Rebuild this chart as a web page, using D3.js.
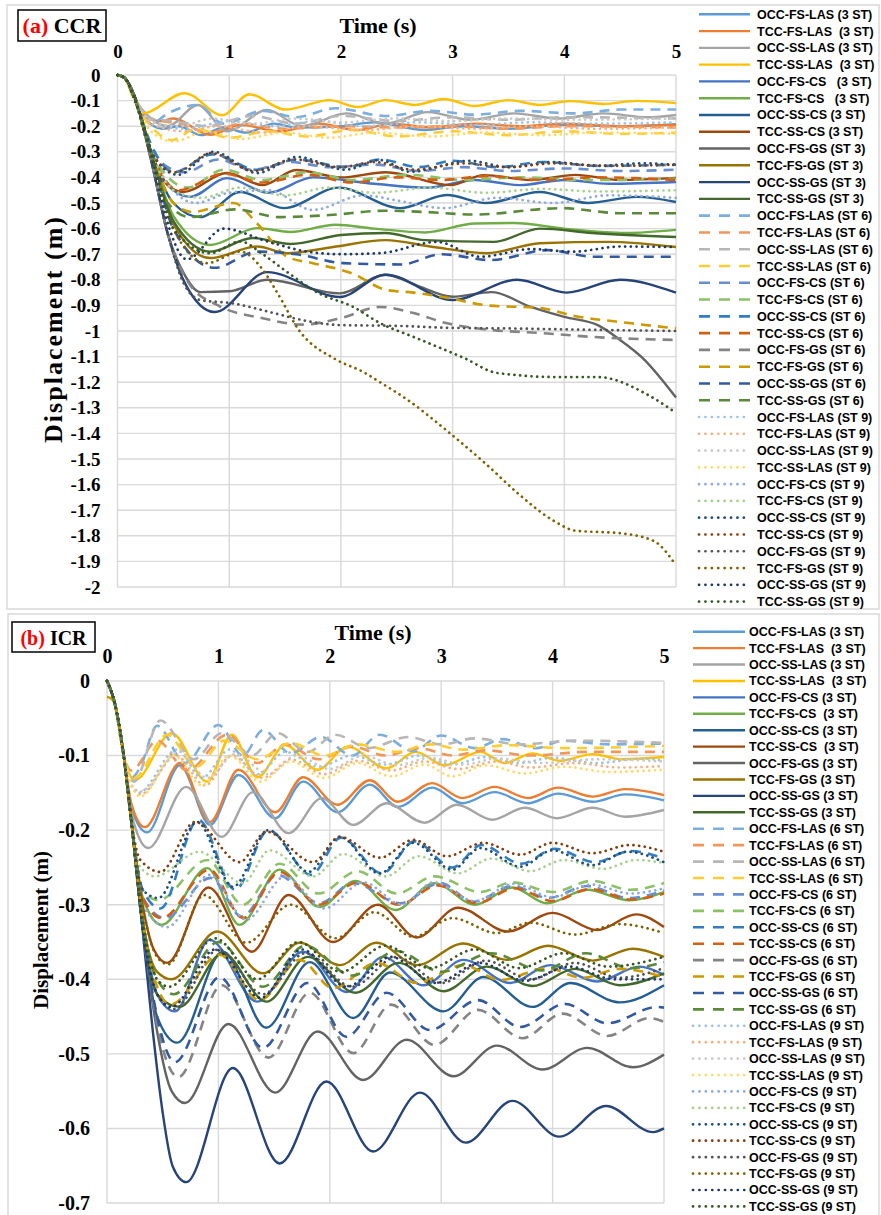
<!DOCTYPE html>
<html><head><meta charset="utf-8">
<script src="https://cdn.jsdelivr.net/npm/d3@7"></script>
<style>
body{margin:0;background:#fff;}
svg{display:block;}
.lg{font-family:"Liberation Sans",Arial,sans-serif;font-weight:bold;font-size:12.5px;white-space:pre;fill:#000;}
.tk{font-family:"Liberation Serif","Times New Roman",serif;font-weight:bold;fill:#000;}
</style></head><body>
<script>
// ---------- tick labels / axis data ----------
const timeTicks = [0,1,2,3,4,5];
const ccrYTicks = d3.range(0,21).map(i=>-i/10);
const icrYTicks = d3.range(0,8).map(i=>-i/10);

// ---------- legend labels ----------
const ccrLabels = ["OCC-FS-LAS (3 ST)","TCC-FS-LAS  (3 ST)","OCC-SS-LAS (3 ST)","TCC-SS-LAS  (3 ST)","OCC-FS-CS   (3 ST)","TCC-FS-CS   (3 ST)","OCC-SS-CS (3 ST)","TCC-SS-CS (3 ST)","OCC-FS-GS (ST 3)","TCC-FS-GS (ST 3)","OCC-SS-GS (ST 3)","TCC-SS-GS (ST 3)",
"OCC-FS-LAS (ST 6)","TCC-FS-LAS (ST 6)","OCC-SS-LAS (ST 6)","TCC-SS-LAS (ST 6)","OCC-FS-CS (ST 6)","TCC-FS-CS (ST 6)","OCC-SS-CS (ST 6)","TCC-SS-CS (ST 6)","OCC-FS-GS (ST 6)","TCC-FS-GS (ST 6)","OCC-SS-GS (ST 6)","TCC-SS-GS (ST 6)",
"OCC-FS-LAS (ST 9)","TCC-FS-LAS (ST 9)","OCC-SS-LAS (ST 9)","TCC-SS-LAS (ST 9)","OCC-FS-CS (ST 9)","TCC-FS-CS (ST 9)","OCC-SS-CS (ST 9)","TCC-SS-CS (ST 9)","OCC-FS-GS (ST 9)","TCC-FS-GS (ST 9)","OCC-SS-GS (ST 9)","TCC-SS-GS (ST 9)"];
const icrLabels = ["OCC-FS-LAS (3 ST)","TCC-FS-LAS  (3 ST)","OCC-SS-LAS (3 ST)","TCC-SS-LAS  (3 ST)","OCC-FS-CS (3 ST)","TCC-FS-CS  (3 ST)","OCC-SS-CS (3 ST)","TCC-SS-CS  (3 ST)","OCC-FS-GS (3 ST)","TCC-FS-GS (3 ST)","OCC-SS-GS (3 ST)","TCC-SS-GS (3 ST)",
"OCC-FS-LAS (6 ST)","TCC-FS-LAS (6 ST)","OCC-SS-LAS (6 ST)","TCC-SS-LAS (6 ST)","OCC-FS-CS (6 ST)","TCC-FS-CS (6 ST)","OCC-SS-CS (6 ST)","TCC-SS-CS (6 ST)","OCC-FS-GS (6 ST)","TCC-FS-GS (6 ST)","OCC-SS-GS (6 ST)","TCC-SS-GS (6 ST)",
"OCC-FS-LAS (9 ST)","TCC-FS-LAS (9 ST)","OCC-SS-LAS (9 ST)","TCC-SS-LAS (9 ST)","OCC-FS-CS (9 ST)","TCC-FS-CS (9 ST)","OCC-SS-CS (9 ST)","TCC-SS-CS (9 ST)","OCC-FS-GS (9 ST)","TCC-FS-GS (9 ST)","OCC-SS-GS (9 ST)","TCC-SS-GS (9 ST)"];

const colors3 = ["#5B9BD5","#ED7D31","#A5A5A5","#FFC000","#4472C4","#70AD47","#255E91","#9E480E","#636363","#997300","#264478","#43682B"];
const colors6 = ["#7CAFDD","#F1975A","#B7B7B7","#FFCD33","#698ED0","#8CC168","#327DC2","#D26012","#848484","#CC9A00","#335AA1","#5A8A39"];
const colors9 = ["#9DC3E6","#F4B183","#C9C9C9","#FFD966","#8FAADC","#A9D18E","#1F4E79","#843C0C","#525252","#7F6000","#203864","#385723"];

// ---------- (a) CCR series : [time s, displacement m] ----------
const a01=[[0,0],[0.06,-0.01],[0.15,-0.09],[0.25,-0.17],[0.4,-0.21],[0.55,-0.2],[0.75,-0.235],[0.95,-0.205],[1.15,-0.225],[1.4,-0.19],[1.6,-0.205],[2.0,-0.2],[2.3,-0.185],[2.75,-0.215],[3.1,-0.2],[3.5,-0.21],[4.0,-0.195],[4.5,-0.2],[5,-0.192]];
const a02=[[0,0],[0.06,-0.01],[0.15,-0.09],[0.25,-0.16],[0.38,-0.18],[0.5,-0.17],[0.83,-0.234],[1.1,-0.195],[1.45,-0.22],[1.8,-0.19],[2.15,-0.215],[2.45,-0.19],[2.8,-0.205],[3.2,-0.19],[3.6,-0.2],[4.0,-0.19],[4.5,-0.2],[5,-0.195]];
const a03=[[0,0],[0.06,-0.01],[0.15,-0.09],[0.3,-0.17],[0.45,-0.2],[0.72,-0.117],[0.98,-0.22],[1.34,-0.137],[1.65,-0.2],[2.05,-0.15],[2.4,-0.19],[2.78,-0.145],[3.15,-0.175],[3.55,-0.15],[3.95,-0.17],[4.35,-0.15],[4.75,-0.165],[5,-0.156]];
const a04=[[0,0],[0.06,-0.01],[0.13,-0.07],[0.23,-0.149],[0.6,-0.071],[0.94,-0.157],[1.18,-0.075],[1.5,-0.135],[1.9,-0.098],[2.15,-0.125],[2.4,-0.098],[2.66,-0.117],[2.92,-0.094],[3.2,-0.121],[3.5,-0.098],[3.78,-0.117],[4.05,-0.102],[4.35,-0.113],[4.65,-0.101],[5,-0.11]];
const a05=[[0,0],[0.06,-0.01],[0.15,-0.08],[0.3,-0.3],[0.45,-0.43],[0.65,-0.476],[0.98,-0.403],[1.35,-0.46],[1.75,-0.4],[2.3,-0.425],[2.77,-0.44],[3.2,-0.41],[3.6,-0.43],[4.0,-0.41],[4.4,-0.425],[5,-0.418]];
const a06=[[0,0],[0.06,-0.01],[0.15,-0.08],[0.3,-0.3],[0.5,-0.55],[0.83,-0.664],[1.25,-0.598],[1.55,-0.613],[1.95,-0.585],[2.3,-0.6],[2.75,-0.615],[3.2,-0.58],[3.55,-0.578],[4.0,-0.6],[4.55,-0.617],[5,-0.605]];
const a07=[[0,0],[0.06,-0.01],[0.15,-0.08],[0.3,-0.3],[0.5,-0.5],[0.74,-0.555],[1.1,-0.457],[1.49,-0.52],[1.98,-0.44],[2.53,-0.52],[2.95,-0.469],[3.3,-0.5],[3.78,-0.457],[4.21,-0.5],[4.65,-0.476],[5,-0.496]];
const a08=[[0,0],[0.06,-0.01],[0.15,-0.08],[0.3,-0.3],[0.45,-0.43],[0.59,-0.457],[0.98,-0.383],[1.3,-0.43],[1.6,-0.371],[2.0,-0.4],[2.4,-0.38],[2.98,-0.43],[3.28,-0.391],[3.7,-0.41],[4.1,-0.39],[4.5,-0.41],[5,-0.402]];
const a09=[[0,0],[0.06,-0.01],[0.15,-0.08],[0.3,-0.33],[0.45,-0.62],[0.6,-0.78],[0.74,-0.848],[1.0,-0.845],[1.34,-0.80],[1.99,-0.853],[2.4,-0.78],[2.7,-0.826],[3.0,-0.866],[3.35,-0.848],[3.7,-0.906],[4.0,-0.945],[4.3,-0.977],[4.5,-1.035],[4.7,-1.105],[5,-1.26]];
const a10=[[0,0],[0.06,-0.01],[0.15,-0.08],[0.3,-0.3],[0.5,-0.58],[0.83,-0.715],[1.25,-0.67],[1.52,-0.696],[1.93,-0.672],[2.4,-0.645],[2.8,-0.67],[3.31,-0.696],[3.78,-0.657],[4.4,-0.652],[5,-0.672]];
const a11=[[0,0],[0.06,-0.01],[0.15,-0.08],[0.3,-0.33],[0.45,-0.62],[0.6,-0.81],[0.87,-0.926],[1.34,-0.77],[1.99,-0.867],[2.4,-0.78],[3.0,-0.879],[3.58,-0.80],[4.02,-0.85],[4.5,-0.80],[5,-0.85]];
const a12=[[0,0],[0.06,-0.01],[0.15,-0.08],[0.3,-0.3],[0.5,-0.57],[0.83,-0.69],[1.21,-0.637],[1.55,-0.66],[2.0,-0.625],[2.4,-0.617],[2.75,-0.645],[3.37,-0.652],[3.78,-0.60],[4.25,-0.617],[5,-0.633]];
const a13=[[0,0],[0.06,-0.01],[0.15,-0.09],[0.3,-0.19],[0.45,-0.15],[0.72,-0.117],[0.95,-0.19],[1.3,-0.14],[1.6,-0.165],[1.95,-0.13],[2.4,-0.16],[2.8,-0.14],[3.2,-0.155],[3.6,-0.14],[4.1,-0.15],[4.5,-0.135],[5,-0.135]];
const a14=[[0,0],[0.06,-0.01],[0.15,-0.09],[0.3,-0.17],[0.55,-0.19],[0.83,-0.225],[1.1,-0.19],[1.5,-0.21],[2.0,-0.2],[2.5,-0.205],[3,-0.2],[3.5,-0.21],[4,-0.2],[5,-0.205]];
const a15=[[0,0],[0.06,-0.01],[0.15,-0.09],[0.3,-0.17],[0.5,-0.18],[0.8,-0.2],[1.2,-0.16],[1.6,-0.19],[2.0,-0.16],[2.5,-0.18],[3,-0.165],[3.5,-0.175],[4,-0.165],[5,-0.17]];
const a16=[[0,0],[0.06,-0.01],[0.15,-0.1],[0.3,-0.2],[0.49,-0.254],[0.7,-0.21],[1.0,-0.245],[1.35,-0.22],[1.7,-0.24],[2.1,-0.215],[2.5,-0.24],[3,-0.22],[3.5,-0.235],[4,-0.22],[4.5,-0.23],[5,-0.225]];
const a17=[[0,0],[0.06,-0.01],[0.15,-0.09],[0.3,-0.28],[0.45,-0.36],[0.6,-0.38],[0.9,-0.33],[1.2,-0.37],[1.55,-0.34],[1.9,-0.36],[2.3,-0.35],[2.7,-0.375],[3.1,-0.36],[3.5,-0.375],[4,-0.365],[4.5,-0.375],[5,-0.37]];
const a18=[[0,0],[0.06,-0.01],[0.15,-0.09],[0.3,-0.3],[0.63,-0.44],[0.95,-0.37],[1.3,-0.41],[1.7,-0.38],[2.1,-0.41],[2.6,-0.39],[3.1,-0.41],[3.6,-0.4],[4.2,-0.41],[5,-0.405]];
const a19=[[0,0],[0.06,-0.01],[0.15,-0.09],[0.3,-0.27],[0.5,-0.38],[0.85,-0.31],[1.25,-0.37],[1.6,-0.33],[2.05,-0.36],[2.35,-0.33],[2.7,-0.36],[3.0,-0.335],[3.4,-0.36],[3.8,-0.34],[4.3,-0.355],[5,-0.35]];
const a20=[[0,0],[0.06,-0.01],[0.15,-0.09],[0.3,-0.3],[0.55,-0.45],[0.95,-0.385],[1.3,-0.42],[1.7,-0.39],[2.1,-0.42],[2.5,-0.4],[2.9,-0.41],[3.3,-0.395],[3.8,-0.41],[4.3,-0.4],[5,-0.41]];
const a21=[[0,0],[0.06,-0.01],[0.15,-0.08],[0.3,-0.33],[0.45,-0.62],[0.65,-0.82],[0.9,-0.9],[1.3,-0.95],[1.65,-0.975],[2.0,-0.95],[2.35,-0.906],[2.65,-0.93],[2.95,-0.97],[3.35,-0.996],[3.8,-1.008],[4.25,-1.023],[5,-1.035]];
const a22=[[0,0],[0.06,-0.01],[0.15,-0.09],[0.3,-0.3],[0.5,-0.5],[0.67,-0.535],[1.04,-0.5],[1.25,-0.58],[1.52,-0.71],[1.75,-0.735],[2.1,-0.775],[2.41,-0.84],[2.65,-0.85],[2.95,-0.87],[3.31,-0.90],[3.78,-0.91],[4.08,-0.94],[4.6,-0.97],[5,-0.99]];
const a23=[[0,0],[0.06,-0.01],[0.15,-0.09],[0.3,-0.3],[0.5,-0.6],[0.87,-0.753],[1.25,-0.69],[1.6,-0.70],[2.02,-0.735],[2.54,-0.74],[2.9,-0.70],[3.34,-0.723],[3.85,-0.684],[4.26,-0.71],[5,-0.71]];
const a24=[[0,0],[0.06,-0.01],[0.15,-0.09],[0.3,-0.3],[0.45,-0.5],[0.65,-0.555],[1.05,-0.525],[1.45,-0.555],[1.9,-0.547],[2.4,-0.53],[2.75,-0.535],[3.2,-0.545],[3.98,-0.52],[4.5,-0.54],[5,-0.54]];
const a25=[[0,0],[0.06,-0.01],[0.15,-0.09],[0.3,-0.18],[0.6,-0.21],[1.0,-0.18],[1.4,-0.2],[1.8,-0.18],[2.2,-0.2],[2.7,-0.185],[3.2,-0.195],[3.7,-0.185],[4.3,-0.19],[5,-0.185]];
const a26=[[0,0],[0.06,-0.01],[0.15,-0.09],[0.3,-0.19],[0.6,-0.22],[0.9,-0.2],[1.3,-0.225],[1.7,-0.2],[2.2,-0.215],[2.7,-0.2],[3.2,-0.21],[3.7,-0.2],[4.3,-0.21],[5,-0.205]];
const a27=[[0,0],[0.06,-0.01],[0.15,-0.09],[0.3,-0.18],[0.55,-0.2],[0.85,-0.17],[1.2,-0.19],[1.6,-0.17],[2.0,-0.185],[2.5,-0.17],[3,-0.18],[3.5,-0.17],[4,-0.175],[5,-0.17]];
const a28=[[0,0],[0.06,-0.01],[0.15,-0.1],[0.3,-0.22],[0.5,-0.26],[0.8,-0.22],[1.1,-0.25],[1.5,-0.225],[1.9,-0.245],[2.3,-0.225],[2.8,-0.24],[3.3,-0.225],[3.8,-0.235],[4.3,-0.225],[5,-0.23]];
const a29=[[0,0],[0.06,-0.01],[0.15,-0.09],[0.3,-0.3],[0.5,-0.45],[0.7,-0.5],[1.0,-0.46],[1.35,-0.45],[1.75,-0.527],[2.2,-0.47],[2.5,-0.49],[2.92,-0.52],[3.4,-0.48],[3.9,-0.5],[4.4,-0.47],[5,-0.48]];
const a30=[[0,0],[0.06,-0.01],[0.15,-0.09],[0.3,-0.3],[0.5,-0.45],[0.75,-0.48],[1.1,-0.44],[1.5,-0.47],[1.9,-0.44],[2.3,-0.46],[2.8,-0.44],[3.3,-0.46],[3.8,-0.445],[4.3,-0.455],[5,-0.45]];
const a31=[[0,0],[0.06,-0.01],[0.15,-0.09],[0.3,-0.3],[0.54,-0.39],[0.86,-0.30],[1.25,-0.383],[1.61,-0.32],[2.04,-0.37],[2.35,-0.332],[2.62,-0.378],[3.15,-0.335],[3.5,-0.36],[3.9,-0.34],[4.3,-0.355],[4.7,-0.345],[5,-0.352]];
const a32=[[0,0],[0.06,-0.01],[0.15,-0.09],[0.3,-0.3],[0.52,-0.38],[0.84,-0.305],[1.22,-0.375],[1.58,-0.33],[2.0,-0.36],[2.3,-0.34],[2.65,-0.37],[3.1,-0.345],[3.5,-0.36],[3.9,-0.345],[4.4,-0.355],[5,-0.35]];
const a33=[[0,0],[0.06,-0.01],[0.15,-0.08],[0.3,-0.33],[0.45,-0.62],[0.6,-0.82],[0.75,-0.88],[1.0,-0.89],[1.4,-0.93],[1.65,-0.957],[2.0,-0.977],[2.5,-0.98],[3.0,-0.988],[3.5,-0.99],[4.2,-0.995],[5,-1.0]];
const a34=[[0,0],[0.06,-0.01],[0.15,-0.09],[0.3,-0.3],[0.5,-0.6],[0.8,-0.735],[1.1,-0.69],[1.3,-0.76],[1.43,-0.85],[1.63,-1.0],[1.95,-1.11],[2.2,-1.16],[2.35,-1.2],[2.6,-1.27],[2.95,-1.39],[3.3,-1.52],[3.6,-1.64],[3.9,-1.74],[4.1,-1.78],[4.5,-1.79],[4.8,-1.82],[5,-1.915]];
const a35=[[0,0],[0.06,-0.01],[0.15,-0.09],[0.3,-0.3],[0.45,-0.58],[0.62,-0.72],[0.95,-0.6],[1.34,-0.65],[1.7,-0.69],[2.0,-0.7],[2.35,-0.696],[2.86,-0.652],[3.25,-0.71],[3.7,-0.68],[4.08,-0.69],[4.5,-0.67],[5,-0.672]];
const a36=[[0,0],[0.06,-0.01],[0.15,-0.09],[0.3,-0.3],[0.5,-0.6],[0.83,-0.696],[1.1,-0.65],[1.3,-0.7],[1.52,-0.77],[1.79,-0.85],[2.11,-0.906],[2.35,-0.969],[2.65,-1.023],[3.1,-1.105],[3.4,-1.164],[3.95,-1.18],[4.3,-1.18],[4.75,-1.25],[5,-1.32]];

// ---------- (b) ICR series : [time s, displacement m] ----------
const b01=[[0,0],[0.07,-0.03],[0.15,-0.1],[0.22,-0.17],[0.36,-0.203],[0.655,-0.113],[0.925,-0.193],[1.18,-0.126],[1.51,-0.184],[1.76,-0.135],[2.07,-0.176],[2.36,-0.139],[2.61,-0.169],[2.92,-0.143],[3.19,-0.164],[3.48,-0.149],[3.78,-0.164],[4.05,-0.151],[4.36,-0.162],[4.65,-0.152],[5,-0.16]];
const b02=[[0,0],[0.07,-0.03],[0.15,-0.1],[0.22,-0.165],[0.34,-0.196],[0.655,-0.11],[0.925,-0.189],[1.18,-0.119],[1.51,-0.176],[1.76,-0.129],[2.07,-0.166],[2.36,-0.133],[2.61,-0.162],[2.92,-0.137],[3.19,-0.157],[3.48,-0.142],[3.78,-0.157],[4.05,-0.143],[4.36,-0.155],[4.65,-0.145],[5,-0.153]];
const b03=[[0,0],[0.07,-0.03],[0.15,-0.1],[0.24,-0.19],[0.37,-0.224],[0.71,-0.142],[1.03,-0.209],[1.31,-0.149],[1.63,-0.204],[1.93,-0.157],[2.21,-0.193],[2.51,-0.164],[2.85,-0.19],[3.14,-0.166],[3.46,-0.186],[3.75,-0.17],[4.04,-0.184],[4.36,-0.17],[4.65,-0.182],[5,-0.173]];
const b04=[[0,0],[0.07,-0.03],[0.15,-0.1],[0.25,-0.133],[0.58,-0.07],[0.9,-0.135],[1.12,-0.072],[1.35,-0.129],[1.6,-0.086],[1.89,-0.119],[2.16,-0.088],[2.51,-0.117],[2.77,-0.095],[3.03,-0.113],[3.35,-0.095],[3.57,-0.11],[3.82,-0.097],[4.07,-0.107],[4.36,-0.098],[4.62,-0.105],[5,-0.102]];
const b05=[[0,0],[0.07,-0.03],[0.15,-0.1],[0.22,-0.19],[0.32,-0.32],[0.45,-0.42],[0.61,-0.443],[0.92,-0.347],[1.35,-0.43],[1.76,-0.363],[2.15,-0.417],[2.48,-0.37],[2.84,-0.408],[3.2,-0.374],[3.62,-0.405],[3.98,-0.381],[4.4,-0.403],[4.78,-0.383],[5,-0.394]];
const b06=[[0,0],[0.07,-0.03],[0.15,-0.1],[0.22,-0.19],[0.32,-0.29],[0.49,-0.327],[0.9,-0.251],[1.19,-0.327],[1.55,-0.253],[1.91,-0.303],[2.23,-0.268],[2.59,-0.307],[2.94,-0.271],[3.3,-0.3],[3.64,-0.277],[3.95,-0.298],[4.31,-0.28],[4.69,-0.294],[5,-0.283]];
const b07=[[0,0],[0.07,-0.03],[0.15,-0.1],[0.22,-0.19],[0.32,-0.33],[0.45,-0.45],[0.63,-0.485],[1.04,-0.363],[1.43,-0.465],[1.82,-0.377],[2.21,-0.452],[2.54,-0.391],[3.02,-0.443],[3.38,-0.397],[3.82,-0.437],[4.16,-0.405],[4.6,-0.431],[5,-0.408]];
const b08=[[0,0],[0.07,-0.03],[0.15,-0.1],[0.22,-0.19],[0.32,-0.3],[0.42,-0.36],[0.54,-0.378],[0.91,-0.277],[1.3,-0.363],[1.63,-0.287],[2.03,-0.35],[2.43,-0.3],[2.78,-0.344],[3.15,-0.304],[3.6,-0.336],[4.0,-0.311],[4.4,-0.334],[4.75,-0.313],[5,-0.33]];
const b09=[[0,0],[0.07,-0.03],[0.15,-0.1],[0.22,-0.19],[0.32,-0.33],[0.45,-0.47],[0.58,-0.55],[0.7,-0.566],[1.09,-0.46],[1.51,-0.552],[1.89,-0.47],[2.3,-0.535],[2.69,-0.481],[3.11,-0.53],[3.5,-0.489],[3.91,-0.521],[4.31,-0.492],[4.72,-0.518],[5,-0.501]];
const b10=[[0,0],[0.07,-0.03],[0.15,-0.1],[0.22,-0.19],[0.32,-0.32],[0.45,-0.39],[0.58,-0.40],[0.99,-0.336],[1.4,-0.392],[1.73,-0.351],[2.09,-0.381],[2.42,-0.351],[2.78,-0.381],[3.2,-0.352],[3.59,-0.374],[3.96,-0.355],[4.36,-0.375],[4.72,-0.359],[5,-0.37]];
const b11=[[0,0],[0.07,-0.03],[0.15,-0.1],[0.22,-0.19],[0.32,-0.334],[0.41,-0.468],[0.5,-0.579],[0.59,-0.651],[0.71,-0.672],[1.13,-0.519],[1.55,-0.647],[1.97,-0.537],[2.39,-0.631],[2.81,-0.552],[3.22,-0.619],[3.64,-0.563],[4.06,-0.611],[4.48,-0.57],[4.9,-0.605],[5,-0.6]];
const b12=[[0,0],[0.07,-0.03],[0.15,-0.1],[0.22,-0.19],[0.32,-0.33],[0.45,-0.42],[0.65,-0.437],[1.04,-0.365],[1.43,-0.43],[1.8,-0.37],[2.23,-0.418],[2.62,-0.378],[3.02,-0.416],[3.41,-0.383],[3.82,-0.409],[4.2,-0.386],[4.6,-0.408],[5,-0.392]];
const b13=[[0,0],[0.07,-0.03],[0.15,-0.1],[0.22,-0.13],[0.3,-0.115],[0.45,-0.06],[0.7,-0.11],[1.0,-0.059],[1.22,-0.1],[1.4,-0.066],[1.65,-0.097],[1.92,-0.075],[2.2,-0.1],[2.45,-0.072],[2.75,-0.094],[3.0,-0.073],[3.3,-0.09],[3.55,-0.078],[3.85,-0.09],[4.1,-0.08],[4.5,-0.085],[5,-0.084]];
const b14=[[0,0],[0.07,-0.03],[0.15,-0.1],[0.22,-0.12],[0.45,-0.08],[0.72,-0.12],[1.08,-0.072],[1.35,-0.11],[1.6,-0.085],[1.9,-0.105],[2.2,-0.088],[2.5,-0.1],[2.8,-0.09],[3.1,-0.1],[3.4,-0.093],[3.8,-0.1],[4.3,-0.095],[5,-0.095]];
const b15=[[0,0],[0.07,-0.03],[0.15,-0.1],[0.24,-0.135],[0.48,-0.053],[0.78,-0.105],[1.03,-0.07],[1.3,-0.1],[1.53,-0.07],[1.8,-0.095],[2.05,-0.072],[2.35,-0.09],[2.7,-0.075],[3.0,-0.085],[3.3,-0.077],[3.7,-0.085],[4.2,-0.08],[5,-0.083]];
const b16=[[0,0],[0.07,-0.03],[0.15,-0.1],[0.24,-0.13],[0.54,-0.072],[0.8,-0.115],[1.05,-0.08],[1.35,-0.105],[1.65,-0.083],[1.95,-0.1],[2.25,-0.085],[2.6,-0.095],[2.9,-0.085],[3.2,-0.092],[3.6,-0.086],[4.1,-0.09],[5,-0.087]];
const b17=[[0,0],[0.07,-0.03],[0.15,-0.1],[0.22,-0.19],[0.32,-0.29],[0.52,-0.318],[0.93,-0.264],[1.21,-0.316],[1.53,-0.26],[1.91,-0.298],[2.21,-0.271],[2.63,-0.298],[2.99,-0.271],[3.29,-0.296],[3.64,-0.275],[3.96,-0.291],[4.31,-0.275],[4.68,-0.291],[5,-0.281]];
const b18=[[0,0],[0.07,-0.03],[0.15,-0.1],[0.22,-0.19],[0.32,-0.28],[0.46,-0.294],[0.9,-0.24],[1.22,-0.3],[1.55,-0.245],[1.9,-0.285],[2.25,-0.255],[2.6,-0.285],[2.94,-0.262],[3.35,-0.283],[3.64,-0.27],[4.0,-0.283],[4.35,-0.268],[4.7,-0.28],[5,-0.271]];
const b19=[[0,0],[0.07,-0.03],[0.15,-0.1],[0.22,-0.19],[0.32,-0.28],[0.48,-0.305],[0.82,-0.186],[1.15,-0.28],[1.45,-0.2],[1.83,-0.26],[2.1,-0.21],[2.47,-0.258],[2.76,-0.215],[3.1,-0.25],[3.36,-0.22],[3.72,-0.245],[4.02,-0.225],[4.38,-0.243],[4.7,-0.228],[5,-0.238]];
const b20=[[0,0],[0.07,-0.03],[0.15,-0.1],[0.22,-0.19],[0.32,-0.29],[0.49,-0.318],[0.92,-0.253],[1.22,-0.318],[1.55,-0.256],[1.9,-0.3],[2.25,-0.27],[2.62,-0.3],[2.97,-0.274],[3.32,-0.298],[3.66,-0.278],[4.0,-0.295],[4.34,-0.279],[4.7,-0.293],[5,-0.285]];
const b21=[[0,0],[0.07,-0.03],[0.15,-0.1],[0.22,-0.19],[0.32,-0.33],[0.45,-0.46],[0.64,-0.531],[1.03,-0.408],[1.45,-0.505],[1.82,-0.418],[2.21,-0.499],[2.55,-0.434],[2.94,-0.488],[3.33,-0.441],[3.73,-0.479],[4.09,-0.446],[4.49,-0.476],[4.87,-0.452],[5,-0.457]];
const b22=[[0,-0.021],[0.05,-0.025],[0.1,-0.05],[0.15,-0.1],[0.22,-0.19],[0.32,-0.32],[0.45,-0.41],[0.57,-0.434],[1.01,-0.367],[1.37,-0.428],[1.73,-0.374],[2.03,-0.412],[2.42,-0.378],[2.78,-0.405],[3.2,-0.381],[3.53,-0.401],[3.95,-0.385],[4.27,-0.398],[4.6,-0.386],[5,-0.397]];
const b23=[[0,0],[0.07,-0.03],[0.15,-0.1],[0.22,-0.19],[0.32,-0.33],[0.45,-0.45],[0.61,-0.511],[1.01,-0.397],[1.4,-0.492],[1.8,-0.405],[2.15,-0.477],[2.51,-0.418],[2.9,-0.468],[3.33,-0.428],[3.71,-0.464],[4.11,-0.433],[4.49,-0.459],[4.94,-0.437],[5,-0.438]];
const b24=[[0,0],[0.07,-0.03],[0.15,-0.1],[0.22,-0.19],[0.32,-0.32],[0.45,-0.4],[0.6,-0.42],[1.0,-0.35],[1.4,-0.41],[1.78,-0.355],[2.2,-0.395],[2.6,-0.362],[3.0,-0.39],[3.45,-0.365],[3.9,-0.388],[4.3,-0.365],[4.7,-0.385],[5,-0.377]];
const b25=[[0,0],[0.07,-0.03],[0.15,-0.1],[0.22,-0.14],[0.28,-0.15],[0.63,-0.092],[0.85,-0.13],[1.1,-0.092],[1.35,-0.125],[1.6,-0.095],[1.9,-0.115],[2.2,-0.1],[2.5,-0.112],[2.8,-0.1],[3.1,-0.112],[3.4,-0.102],[3.7,-0.11],[4.0,-0.103],[4.4,-0.11],[4.8,-0.104],[5,-0.107]];
const b26=[[0,0],[0.07,-0.03],[0.15,-0.1],[0.22,-0.14],[0.3,-0.152],[0.62,-0.1],[0.88,-0.14],[1.12,-0.1],[1.4,-0.13],[1.65,-0.105],[1.95,-0.125],[2.25,-0.107],[2.55,-0.12],[2.85,-0.108],[3.15,-0.118],[3.5,-0.108],[3.8,-0.116],[4.2,-0.11],[4.6,-0.116],[5,-0.114]];
const b27=[[0,0],[0.07,-0.03],[0.15,-0.1],[0.22,-0.14],[0.3,-0.148],[0.65,-0.095],[0.9,-0.13],[1.15,-0.098],[1.45,-0.125],[1.7,-0.1],[2.0,-0.118],[2.3,-0.1],[2.6,-0.113],[2.9,-0.103],[3.2,-0.112],[3.5,-0.104],[3.9,-0.11],[4.4,-0.105],[5,-0.108]];
const b28=[[0,0],[0.07,-0.03],[0.15,-0.1],[0.22,-0.14],[0.3,-0.155],[0.6,-0.1],[0.85,-0.14],[1.1,-0.1],[1.38,-0.135],[1.65,-0.108],[1.95,-0.13],[2.25,-0.11],[2.55,-0.128],[2.85,-0.112],[3.1,-0.128],[3.4,-0.113],[3.75,-0.124],[4.1,-0.115],[4.5,-0.122],[5,-0.119]];
const b29=[[0,0],[0.07,-0.03],[0.15,-0.1],[0.22,-0.19],[0.32,-0.3],[0.54,-0.33],[0.92,-0.26],[1.25,-0.32],[1.6,-0.262],[1.95,-0.305],[2.3,-0.27],[2.65,-0.3],[2.93,-0.27],[3.3,-0.295],[3.65,-0.272],[4.0,-0.29],[4.35,-0.273],[4.7,-0.285],[5,-0.278]];
const b30=[[0,0],[0.07,-0.03],[0.15,-0.1],[0.22,-0.19],[0.3,-0.25],[0.43,-0.262],[0.83,-0.229],[1.22,-0.271],[1.46,-0.227],[1.85,-0.262],[2.12,-0.232],[2.5,-0.262],[2.8,-0.235],[3.15,-0.258],[3.45,-0.238],[3.8,-0.255],[4.1,-0.24],[4.45,-0.252],[4.75,-0.24],[5,-0.244]];
const b31=[[0,0],[0.07,-0.03],[0.15,-0.1],[0.22,-0.19],[0.32,-0.28],[0.46,-0.291],[0.81,-0.189],[1.13,-0.276],[1.45,-0.2],[1.81,-0.256],[2.09,-0.209],[2.45,-0.258],[2.75,-0.217],[3.1,-0.253],[3.35,-0.224],[3.71,-0.249],[4.0,-0.227],[4.36,-0.247],[4.67,-0.229],[5,-0.243]];
const b32=[[0,0],[0.07,-0.03],[0.15,-0.1],[0.22,-0.19],[0.3,-0.24],[0.48,-0.256],[0.79,-0.189],[1.19,-0.243],[1.43,-0.202],[1.85,-0.243],[2.09,-0.209],[2.45,-0.237],[2.75,-0.213],[3.05,-0.235],[3.38,-0.217],[3.71,-0.233],[4.0,-0.217],[4.36,-0.231],[4.69,-0.22],[5,-0.229]];
const b33=[[0,0],[0.07,-0.03],[0.15,-0.1],[0.22,-0.19],[0.32,-0.33],[0.45,-0.42],[0.6,-0.44],[1.0,-0.36],[1.4,-0.42],[1.78,-0.365],[2.2,-0.41],[2.6,-0.37],[3.0,-0.405],[3.4,-0.375],[3.8,-0.4],[4.2,-0.378],[4.6,-0.398],[5,-0.385]];
const b34=[[0,0],[0.07,-0.03],[0.15,-0.1],[0.22,-0.19],[0.32,-0.3],[0.45,-0.37],[0.55,-0.38],[0.87,-0.287],[1.25,-0.351],[1.65,-0.3],[2.05,-0.345],[2.4,-0.31],[2.75,-0.343],[3.1,-0.318],[3.5,-0.338],[3.8,-0.324],[4.2,-0.34],[4.6,-0.326],[5,-0.338]];
const b35=[[0,0],[0.07,-0.03],[0.15,-0.1],[0.22,-0.19],[0.32,-0.33],[0.45,-0.42],[0.58,-0.437],[0.97,-0.36],[1.38,-0.425],[1.75,-0.36],[2.15,-0.41],[2.55,-0.37],[2.95,-0.405],[3.35,-0.378],[3.75,-0.402],[4.15,-0.383],[4.55,-0.4],[5,-0.4]];
const b36=[[0,0],[0.07,-0.03],[0.15,-0.1],[0.22,-0.19],[0.32,-0.32],[0.45,-0.4],[0.56,-0.41],[0.97,-0.345],[1.35,-0.4],[1.72,-0.35],[2.1,-0.39],[2.5,-0.355],[2.9,-0.385],[3.3,-0.36],[3.7,-0.385],[4.1,-0.365],[4.5,-0.383],[5,-0.37]];

const ccrSeries=[a01,a02,a03,a04,a05,a06,a07,a08,a09,a10,a11,a12,a13,a14,a15,a16,a17,a18,a19,a20,a21,a22,a23,a24,a25,a26,a27,a28,a29,a30,a31,a32,a33,a34,a35,a36];
const icrSeries=[b01,b02,b03,b04,b05,b06,b07,b08,b09,b10,b11,b12,b13,b14,b15,b16,b17,b18,b19,b20,b21,b22,b23,b24,b25,b26,b27,b28,b29,b30,b31,b32,b33,b34,b35,b36];

// ---------- drawing ----------
const W=881,H=1215;
const svg=d3.select("body").append("svg").attr("width",W).attr("height",H);
svg.append("rect").attr("width",W).attr("height",H).attr("fill","#fff");

const allColors=colors3.concat(colors6,colors9);
function styleOf(i){
  const grp=Math.floor(i/12);
  if(grp===0) return {dash:null,cap:"butt",w:2.4};
  if(grp===1) return {dash:"10,7",cap:"butt",w:2.6};
  return {dash:"0.1,5.6",cap:"round",w:2.7};
}

function panel(cfg){
  const g=svg.append("g");
  g.append("rect").attr("x",cfg.frame[0]).attr("y",cfg.frame[1]).attr("width",cfg.frame[2]).attr("height",cfg.frame[3])
   .attr("fill","none").attr("stroke","#d9d9d9").attr("stroke-width",1.5);
  const x=d3.scaleLinear().domain([0,5]).range(cfg.xr);
  const y=d3.scaleLinear().domain([0,cfg.ymin]).range(cfg.yr);
  g.append("g").selectAll("line").data(cfg.yTicks).join("line")
   .attr("x1",cfg.xr[0]).attr("x2",cfg.xr[1]).attr("y1",d=>y(d)).attr("y2",d=>y(d))
   .attr("stroke","#d9d9d9").attr("stroke-width",1.4);
  g.append("g").selectAll("line").data(timeTicks).join("line")
   .attr("x1",d=>x(d)).attr("x2",d=>x(d)).attr("y1",cfg.yr[0]).attr("y2",cfg.yr[1])
   .attr("stroke","#d9d9d9").attr("stroke-width",1.4);
  const xa=g.append("g").attr("transform",`translate(0,${cfg.yr[0]})`)
    .call(d3.axisTop(x).tickValues(timeTicks).tickSize(0).tickPadding(cfg.xPad).tickFormat(d3.format("d")));
  const ya=g.append("g").attr("transform",`translate(${cfg.xr[0]},0)`)
    .call(d3.axisLeft(y).tickValues(cfg.yTicks).tickSize(0).tickPadding(cfg.yPad).tickFormat(d=>d===0?"0":String(+d.toFixed(1))));
  [xa,ya].forEach(a=>{a.select(".domain").remove();
    a.selectAll("text").attr("class","tk").style("font-size",cfg.tickFs+"px").attr("fill","#000");});
  g.append("text").attr("class","tk").attr("x",cfg.timeXY[0]).attr("y",cfg.timeXY[1]).attr("text-anchor","middle")
   .style("font-size",cfg.titleFs+"px").text("Time (s)");
  const dl=g.append("text").attr("class","tk").attr("transform",`translate(${cfg.dispXY[0]},${cfg.dispXY[1]}) rotate(-90)`)
   .attr("text-anchor","middle").style("font-size",cfg.dispFs+"px").text("Displacement (m)");
  if(cfg.dispLen) dl.attr("textLength",cfg.dispLen).attr("lengthAdjust","spacing");
  const b=cfg.box;
  g.append("rect").attr("x",b[0]).attr("y",b[1]).attr("width",b[2]).attr("height",b[3]).attr("fill","#fff").attr("stroke","#000").attr("stroke-width",1.5);
  const t=g.append("text").attr("class","tk").attr("x",b[0]+b[2]/2).attr("y",b[1]+b[3]-cfg.boxBase).attr("text-anchor","middle").style("font-size",cfg.boxFs+"px");
  t.append("tspan").attr("fill","#FF0000").text(cfg.tag);
  t.append("tspan").attr("fill","#000").text(" "+cfg.name);
  const line=d3.line().x(d=>x(d[0])).y(d=>y(d[1])).curve(d3.curveMonotoneX);
  const lg=g.append("g");
  cfg.series.forEach((s,i)=>{
    const st=styleOf(i);
    lg.append("path").attr("d",line(s)).attr("fill","none").attr("stroke",allColors[i])
      .attr("stroke-width",st.w).attr("stroke-linecap",st.cap).attr("stroke-linejoin","round")
      .attr("stroke-dasharray",st.dash);
  });
  const L=cfg.legend;
  const leg=g.append("g");
  cfg.labels.forEach((lab,i)=>{
    const yy=L.y0+i*L.dy, st=styleOf(i);
    leg.append("line").attr("x1",L.x1).attr("x2",L.x2).attr("y1",yy).attr("y2",yy)
      .attr("stroke",allColors[i]).attr("stroke-width",st.w).attr("stroke-linecap",st.cap)
      .attr("stroke-dasharray",st.dash? (i<24?"11,9":"0.1,6.3"):null);
    leg.append("text").attr("class","lg").attr("x",L.tx).attr("y",yy+4.5).text(lab);
  });
}

panel({frame:[7,5,872,604],xr:[117.5,676],yr:[75,587],ymin:-2,yTicks:ccrYTicks,xPad:17,yPad:17,tickFs:19,
  timeXY:[378,33],dispXY:[62,330],titleFs:22,dispFs:26,dispLen:226,box:[18,10,88,31],boxFs:22,boxBase:8,tag:"(a)",name:"CCR",
  series:ccrSeries,labels:ccrLabels,legend:{y0:14.3,dy:16.78,x1:699,x2:750,tx:757}});
panel({frame:[8,614,871,610],xr:[107,664],yr:[681,1203],ymin:-0.7,yTicks:icrYTicks,xPad:18,yPad:17,tickFs:20,
  timeXY:[373,640],dispXY:[48,930],titleFs:22,dispFs:21,dispLen:null,box:[12,622,83,30],boxFs:20,boxBase:7,tag:"(b)",name:"ICR",
  series:icrSeries,labels:icrLabels,legend:{y0:631.7,dy:16.42,x1:693,x2:745,tx:749}});
</script>
</body></html>
